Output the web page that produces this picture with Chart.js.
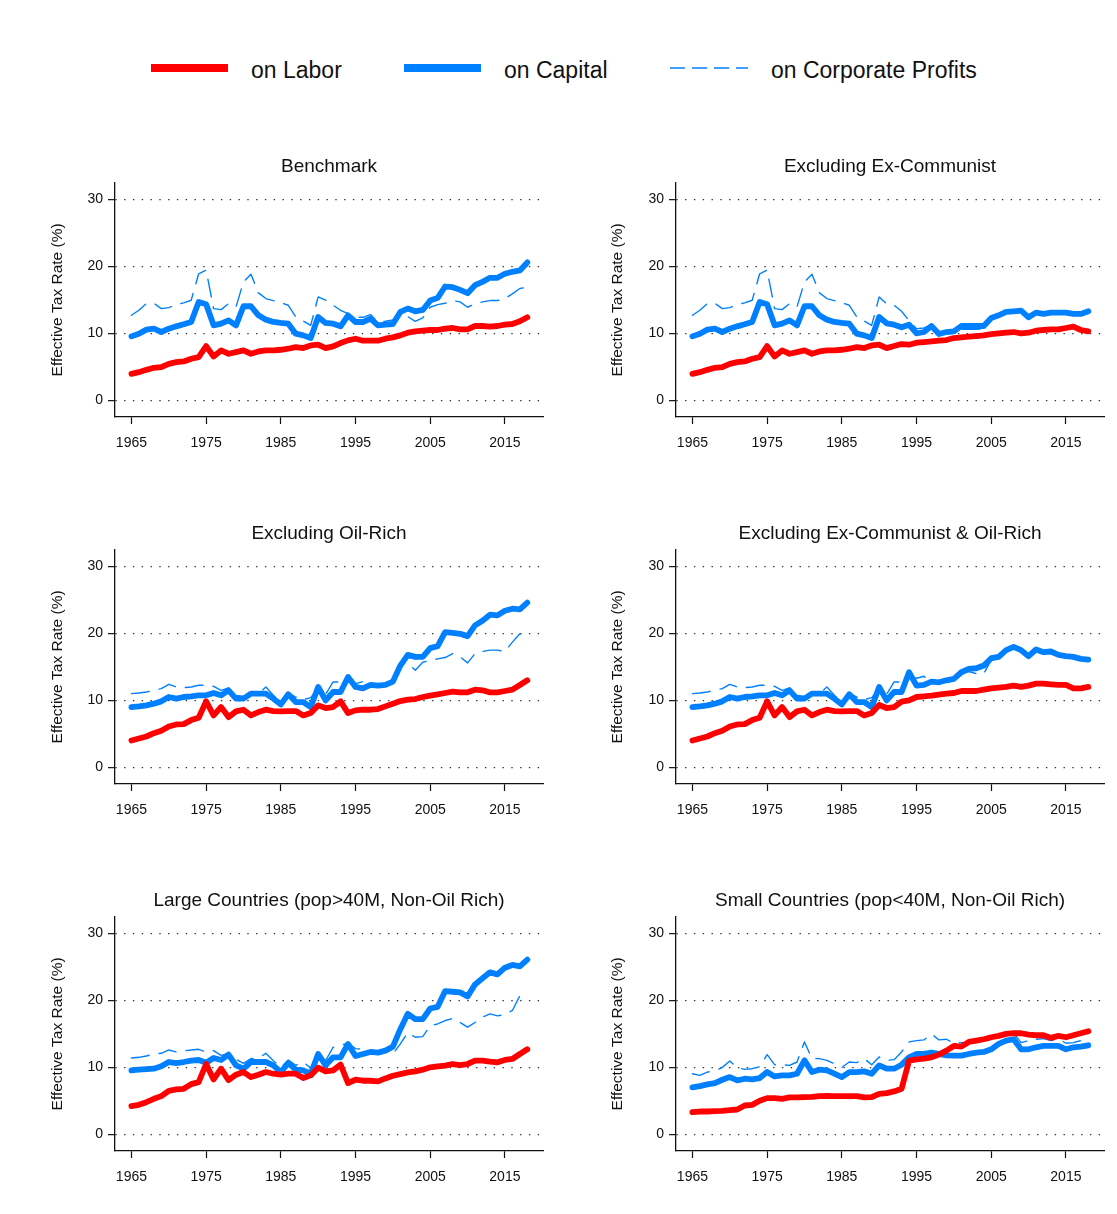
<!DOCTYPE html>
<html>
<head>
<meta charset="utf-8">
<script src="https://cdn.jsdelivr.net/npm/chart.js@4.4.0/dist/chart.umd.min.js"></script>
<style>
  body { margin: 0; background: #fff; width: 1117px; height: 1214px; position: relative; overflow: hidden;
         font-family: "Liberation Sans", Arial, Helvetica, sans-serif; }
  .key { position: absolute; top: 56px; height: 28px; }
  .key svg { position: absolute; left: 0; top: 0; }
  .key span { position: absolute; top: 0; font-size: 23px; line-height: 28px; color: #111; white-space: nowrap; }
  canvas { position: absolute; }
</style>
</head>
<body>

<div class="key" style="left:150px">
  <svg width="80" height="28"><line x1="1" y1="12" x2="78" y2="12" stroke="#ff0000" stroke-width="8"/></svg>
  <span style="left:101px">on Labor</span>
</div>
<div class="key" style="left:403px">
  <svg width="80" height="28"><line x1="1" y1="12" x2="78" y2="12" stroke="#0080ff" stroke-width="8"/></svg>
  <span style="left:101px">on Capital</span>
</div>
<div class="key" style="left:670px">
  <svg width="80" height="28"><line x1="0" y1="12" x2="78" y2="12" stroke="#0080ff" stroke-width="1.6" stroke-dasharray="15 7"/></svg>
  <span style="left:101px">on Corporate Profits</span>
</div>

<canvas id="p0" width="560" height="335" style="left:0;top:130px"></canvas>
<canvas id="p1" width="557" height="335" style="left:560px;top:130px"></canvas>
<canvas id="p2" width="560" height="335" style="left:0;top:497px"></canvas>
<canvas id="p3" width="557" height="335" style="left:560px;top:497px"></canvas>
<canvas id="p4" width="560" height="335" style="left:0;top:864px"></canvas>
<canvas id="p5" width="557" height="335" style="left:560px;top:864px"></canvas>

<script>
// years on the x axis
const years = [1965, 1966, 1967, 1968, 1969, 1970, 1971, 1972, 1973, 1974,
  1975, 1976, 1977, 1978, 1979, 1980, 1981, 1982, 1983, 1984,
  1985, 1986, 1987, 1988, 1989, 1990, 1991, 1992, 1993, 1994,
  1995, 1996, 1997, 1998, 1999, 2000, 2001, 2002, 2003, 2004,
  2005, 2006, 2007, 2008, 2009, 2010, 2011, 2012, 2013, 2014,
  2015, 2016, 2017, 2018];
const yearTicks = [1965, 1975, 1985, 1995, 2005, 2015];
const rateTicks = [0, 10, 20, 30];

// Benchmark
const benchLabor = [3.95, 4.2, 4.55, 4.85, 4.95, 5.45, 5.7, 5.8, 6.2, 6.45,
  8.1, 6.55, 7.45, 6.95, 7.2, 7.45, 6.95, 7.3, 7.45, 7.45,
  7.55, 7.7, 7.95, 7.8, 8.2, 8.3, 7.8, 8.05, 8.55, 8.95,
  9.2, 8.9, 8.9, 8.9, 9.2, 9.4, 9.7, 10.1, 10.3, 10.4,
  10.5, 10.5, 10.7, 10.8, 10.6, 10.6, 11.1, 11.1, 11.0, 11.1,
  11.3, 11.4, 11.8, 12.4];
const benchCapital = [9.55, 9.95, 10.55, 10.7, 10.2, 10.7, 11.05, 11.35, 11.7, 14.7,
  14.35, 11.2, 11.45, 11.95, 11.2, 14.05, 14.05, 12.7, 12.05, 11.7,
  11.55, 11.45, 9.95, 9.7, 9.3, 12.45, 11.55, 11.45, 11.05, 12.7,
  11.7, 11.7, 12.2, 11.2, 11.3, 11.4, 13.2, 13.7, 13.3, 13.5,
  14.9, 15.3, 17.0, 16.9, 16.5, 16.0, 17.2, 17.7, 18.3, 18.3,
  18.9, 19.2, 19.4, 20.6];
const benchCorp = [12.7, 13.45, 14.45, 14.5, 13.7, 13.85, 14.3, 14.55, 14.95, 18.9,
  19.45, 13.7, 13.55, 14.45, 13.95, 17.7, 18.85, 16.05, 15.2, 14.9,
  14.6, 14.2, 12.45, 11.85, 11.2, 15.45, 14.95, 14.2, 13.45, 12.95,
  12.4, 12.4, 12.8, 11.7, 11.8, 12.0, 13.0, 12.5, 11.8, 12.3,
  13.9, 14.3, 14.5, 14.9, 14.7, 13.9, 14.4, 14.7, 14.9, 14.9,
  15.2, 15.9, 16.7, 16.9];

// Excluding Ex-Communist
const exCommLabor = [3.95, 4.2, 4.55, 4.85, 4.95, 5.45, 5.7, 5.8, 6.2, 6.45,
  8.1, 6.55, 7.45, 6.95, 7.2, 7.45, 6.95, 7.3, 7.45, 7.45,
  7.55, 7.7, 7.95, 7.8, 8.2, 8.3, 7.8, 8.1, 8.4, 8.3,
  8.6, 8.7, 8.8, 8.9, 9.0, 9.3, 9.4, 9.5, 9.6, 9.7,
  9.9, 10.0, 10.1, 10.2, 10.0, 10.1, 10.4, 10.5, 10.6, 10.6,
  10.8, 11.0, 10.5, 10.3];
const exCommCapital = [9.55, 9.95, 10.55, 10.7, 10.2, 10.7, 11.05, 11.35, 11.7, 14.7,
  14.35, 11.2, 11.45, 11.95, 11.2, 14.05, 14.05, 12.7, 12.05, 11.7,
  11.55, 11.45, 9.95, 9.7, 9.3, 12.45, 11.5, 11.3, 10.9, 11.3,
  10.0, 10.2, 11.1, 9.9, 10.2, 10.3, 11.1, 11.1, 11.1, 11.1,
  12.3, 12.7, 13.2, 13.3, 13.4, 12.4, 13.1, 12.9, 13.1, 13.1,
  13.1, 12.9, 12.9, 13.3];
const exCommCorp = [12.7, 13.45, 14.45, 14.5, 13.7, 13.85, 14.3, 14.55, 14.95, 18.9,
  19.45, 13.7, 13.55, 14.45, 13.95, 17.7, 18.85, 16.05, 15.2, 14.9,
  14.6, 14.2, 12.45, 11.85, 11.2, 15.45, 14.4, 14.2, 13.3, 11.9,
  10.7, 10.8, 11.3, 9.8, 10.0, 10.2, 10.6, 10.6, 10.6, 10.7,
  12.1, 12.6, 13.1, 13.2, 13.3, 12.3, 13.0, 12.8, 13.0, 13.0,
  13.0, 12.8, 12.8, 13.2];

// Excluding Oil-Rich
const exOilLabor = [4.0, 4.3, 4.6, 5.1, 5.45, 6.1, 6.4, 6.45, 7.05, 7.4,
  9.85, 7.75, 9.0, 7.5, 8.35, 8.6, 7.75, 8.25, 8.6, 8.4,
  8.35, 8.4, 8.4, 7.75, 8.1, 9.25, 8.85, 9.0, 9.85, 8.1,
  8.5, 8.6, 8.6, 8.7, 9.1, 9.5, 9.9, 10.1, 10.2, 10.5,
  10.7, 10.9, 11.1, 11.3, 11.2, 11.2, 11.6, 11.5, 11.2, 11.2,
  11.4, 11.6, 12.3, 13.0];
const exOilCapital = [9.0, 9.1, 9.25, 9.5, 9.85, 10.5, 10.25, 10.5, 10.6, 10.75,
  10.75, 11.1, 10.75, 11.5, 10.25, 10.25, 11.0, 11.0, 11.0, 10.25,
  9.4, 10.9, 9.75, 9.75, 9.0, 12.0, 10.0, 11.25, 11.25, 13.5,
  12.0, 11.8, 12.3, 12.2, 12.3, 12.8, 15.2, 16.8, 16.5, 16.5,
  17.8, 18.1, 20.2, 20.1, 19.95, 19.6, 21.2, 21.9, 22.8, 22.7,
  23.4, 23.7, 23.6, 24.6];
const exOilCorp = [11.0, 11.1, 11.25, 11.5, 11.75, 12.4, 12.0, 11.9, 12.0, 12.25,
  12.25, 12.1, 11.5, 11.85, 10.75, 10.6, 10.75, 11.0, 12.0, 10.75,
  9.75, 11.1, 10.5, 10.1, 10.4, 11.8, 10.9, 12.75, 12.75, 13.4,
  12.5, 12.8, 12.3, 12.3, 12.3, 12.8, 15.5, 15.6, 14.5, 15.7,
  16.0, 16.2, 16.4, 17.0, 16.5, 15.6, 17.0, 17.3, 17.5, 17.5,
  17.3, 18.7, 19.95, 19.5];

// Excluding Ex-Communist & Oil-Rich
const exCommOilLabor = [4.0, 4.3, 4.6, 5.1, 5.45, 6.1, 6.4, 6.45, 7.05, 7.4,
  9.85, 7.75, 9.0, 7.5, 8.35, 8.6, 7.75, 8.25, 8.6, 8.4,
  8.35, 8.4, 8.4, 7.75, 8.1, 9.3, 8.85, 9.0, 9.8, 10.0,
  10.5, 10.6, 10.7, 10.85, 11.0, 11.1, 11.4, 11.4, 11.4, 11.6,
  11.8, 11.9, 12.0, 12.2, 12.0, 12.2, 12.5, 12.5, 12.4, 12.3,
  12.3, 11.8, 11.8, 12.0];
const exCommOilCapital = [9.0, 9.1, 9.25, 9.5, 9.85, 10.5, 10.25, 10.5, 10.6, 10.75,
  10.75, 11.1, 10.75, 11.5, 10.25, 10.25, 11.0, 11.0, 11.0, 10.25,
  9.4, 10.9, 9.75, 9.75, 9.0, 12.0, 10.0, 11.25, 11.25, 14.2,
  12.2, 12.3, 12.8, 12.7, 13.0, 13.2, 14.2, 14.7, 14.8, 15.2,
  16.3, 16.5, 17.5, 18.0, 17.5, 16.6, 17.6, 17.2, 17.3, 16.8,
  16.6, 16.5, 16.2, 16.1];
const exCommOilCorp = [11.0, 11.1, 11.25, 11.5, 11.75, 12.4, 12.0, 11.9, 12.0, 12.25,
  12.25, 12.1, 11.5, 11.85, 10.75, 10.6, 10.75, 11.0, 12.0, 10.75,
  9.75, 11.1, 10.5, 10.1, 10.4, 11.8, 10.9, 12.75, 12.75, 13.4,
  13.3, 13.6, 12.6, 12.8, 12.8, 13.1, 14.0, 14.3, 14.0, 14.0,
  16.0, 16.3, 17.4, 18.0, 17.5, 16.6, 17.6, 17.2, 17.3, 16.8,
  16.6, 16.5, 16.2, 16.1];

// Large Countries (pop>40M, Non-Oil Rich)
const largeLabor = [4.2, 4.4, 4.8, 5.3, 5.7, 6.5, 6.7, 6.8, 7.5, 7.8,
  10.5, 8.2, 9.8, 8.1, 8.9, 9.3, 8.55, 8.9, 9.3, 9.05,
  8.9, 9.05, 9.05, 8.4, 8.8, 9.95, 9.4, 9.55, 10.4, 7.65,
  8.15, 8.0, 8.0, 7.9, 8.35, 8.75, 9.0, 9.25, 9.4, 9.65,
  10.0, 10.15, 10.25, 10.5, 10.35, 10.5, 11.0, 11.0, 10.85, 10.75,
  11.1, 11.25, 12.0, 12.7];
const largeCapital = [9.55, 9.65, 9.75, 9.8, 10.15, 10.8, 10.65, 10.8, 11.0, 11.1,
  10.7, 11.4, 11.1, 11.9, 10.3, 9.8, 10.8, 10.8, 10.8, 10.3,
  9.3, 10.65, 9.65, 9.55, 9.05, 12.0, 10.3, 11.5, 11.5, 13.5,
  11.7, 12.0, 12.3, 12.2, 12.5, 13.1, 15.7, 18.0, 17.2, 17.2,
  18.8, 19.05, 21.4, 21.3, 21.2, 20.6, 22.4, 23.3, 24.2, 23.9,
  24.9, 25.3, 25.1, 26.1];
const largeCorp = [11.4, 11.5, 11.7, 12.0, 12.1, 12.6, 12.3, 12.45, 12.6, 12.7,
  12.3, 12.5, 11.8, 12.1, 11.2, 10.6, 11.3, 11.4, 12.1, 11.0,
  10.0, 11.1, 10.3, 10.8, 9.9, 11.8, 11.0, 13.0, 13.3, 13.6,
  12.8, 12.7, 12.3, 12.3, 12.3, 12.0, 13.5, 15.2, 14.5, 14.6,
  16.2, 16.5, 17.0, 17.3, 16.7, 16.0, 16.7, 17.5, 18.0, 17.7,
  17.9, 18.5, 20.7, 20.0];

// Small Countries (pop<40M, Non-Oil Rich)
const smallLabor = [3.3, 3.4, 3.4, 3.45, 3.5, 3.6, 3.7, 4.3, 4.4, 5.0,
  5.4, 5.4, 5.3, 5.5, 5.5, 5.55, 5.6, 5.7, 5.75, 5.7,
  5.7, 5.7, 5.7, 5.5, 5.55, 6.05, 6.15, 6.4, 6.8, 11.0,
  11.2, 11.3, 11.5, 11.9, 12.5, 13.2, 13.1, 13.8, 14.0, 14.2,
  14.5, 14.7, 15.0, 15.1, 15.1, 14.9, 14.8, 14.8, 14.4, 14.7,
  14.5, 14.8, 15.1, 15.4];
const smallCapital = [7.0, 7.2, 7.45, 7.65, 8.15, 8.55, 8.05, 8.3, 8.2, 8.4,
  9.3, 8.65, 8.8, 8.8, 9.05, 11.05, 9.3, 9.65, 9.55, 9.05,
  8.55, 9.3, 9.3, 9.4, 9.05, 10.3, 9.8, 9.8, 10.4, 11.5,
  12.0, 12.0, 12.2, 12.0, 11.8, 11.75, 11.75, 12.0, 12.2, 12.3,
  12.7, 13.5, 14.0, 14.2, 12.7, 12.7, 13.0, 13.2, 13.2, 13.2,
  12.7, 13.0, 13.1, 13.3];
const smallCorp = [9.05, 8.8, 9.3, 9.4, 10.0, 10.95, 9.95, 9.7, 9.8, 10.1,
  11.9, 10.4, 10.4, 10.3, 10.8, 13.8, 11.3, 11.3, 11.05, 10.55,
  10.0, 10.8, 10.7, 11.3, 10.4, 11.55, 11.05, 11.15, 12.3, 13.8,
  14.0, 14.1, 15.0, 14.1, 14.2, 13.6, 13.7, 13.7, 13.7, 13.8,
  14.2, 14.8, 15.2, 15.1, 13.7, 14.0, 14.2, 14.3, 14.0, 14.3,
  13.6, 13.7, 14.0, 14.6];

const RED = '#ff0000';
const BLUE = '#0080ff';
const INK = '#111';

Chart.defaults.font.family = '"Liberation Sans", Arial, Helvetica, sans-serif';
Chart.defaults.color = INK;

// pair each value with its year
function toPoints(values) {
  return years.map((yr, i) => ({ x: yr, y: values[i] }));
}

function makePanel(id, title, labor, capital, corp, col) {
  const axisWidth = col === 0 ? 115 : 116;
  const padRight = col === 0 ? 17 : 13;

  return new Chart(document.getElementById(id), {
    type: 'line',
    data: {
      datasets: [
        { label: 'on Labor', data: toPoints(labor), borderColor: RED, borderWidth: 5.8 },
        { label: 'on Capital', data: toPoints(capital), borderColor: BLUE, borderWidth: 5.8 },
        { label: 'on Corporate Profits', data: toPoints(corp), borderColor: BLUE, borderWidth: 1.4, borderDash: [18, 10] },
      ],
    },
    options: {
      responsive: false,
      animation: false,
      layout: { padding: { left: 0, right: padRight, top: 0, bottom: 0 } },
      elements: {
        point: { radius: 0 },
        line: { tension: 0, borderJoinStyle: 'round', borderCapStyle: 'round' },
      },
      plugins: {
        legend: { display: false },
        tooltip: { enabled: false },
        title: {
          display: true,
          fullSize: false, // centre over the plot, not the canvas
          text: title,
          color: INK,
          font: { size: 19, weight: 'normal' },
          padding: { top: 25, bottom: 5 },
        },
      },
      scales: {
        x: {
          type: 'linear',
          min: 1962.8,
          max: 2020.1,
          afterBuildTicks: (scale) => { scale.ticks = yearTicks.map((v) => ({ value: v })); },
          afterFit: (scale) => { scale.height = 48; },
          grid: { drawOnChartArea: false, tickLength: 7, tickColor: INK, tickWidth: 1.2 },
          border: { color: INK, width: 1.3 },
          ticks: { font: { size: 14 }, padding: 11, maxRotation: 0, autoSkip: false, callback: (v) => String(v) },
        },
        y: {
          min: -2.5,
          max: 32.5,
          afterBuildTicks: (scale) => { scale.ticks = rateTicks.map((v) => ({ value: v })); },
          afterFit: (scale) => { scale.width = axisWidth; },
          grid: { color: '#333', lineWidth: 1.3, tickLength: 7, tickColor: INK, tickWidth: 1.2 },
          border: { color: INK, width: 1.3, dash: [1.4, 7.4] },
          ticks: { font: { size: 14 }, padding: 5 },
          title: {
            display: true,
            text: 'Effective Tax Rate (%)',
            font: { size: 15.5 },
            padding: { top: 48, bottom: 0 },
          },
        },
      },
    },
  });
}

makePanel('p0', 'Benchmark', benchLabor, benchCapital, benchCorp, 0);
makePanel('p1', 'Excluding Ex-Communist', exCommLabor, exCommCapital, exCommCorp, 1);
makePanel('p2', 'Excluding Oil-Rich', exOilLabor, exOilCapital, exOilCorp, 0);
makePanel('p3', 'Excluding Ex-Communist & Oil-Rich', exCommOilLabor, exCommOilCapital, exCommOilCorp, 1);
makePanel('p4', 'Large Countries (pop>40M, Non-Oil Rich)', largeLabor, largeCapital, largeCorp, 0);
makePanel('p5', 'Small Countries (pop<40M, Non-Oil Rich)', smallLabor, smallCapital, smallCorp, 1);
</script>
</body>
</html>
